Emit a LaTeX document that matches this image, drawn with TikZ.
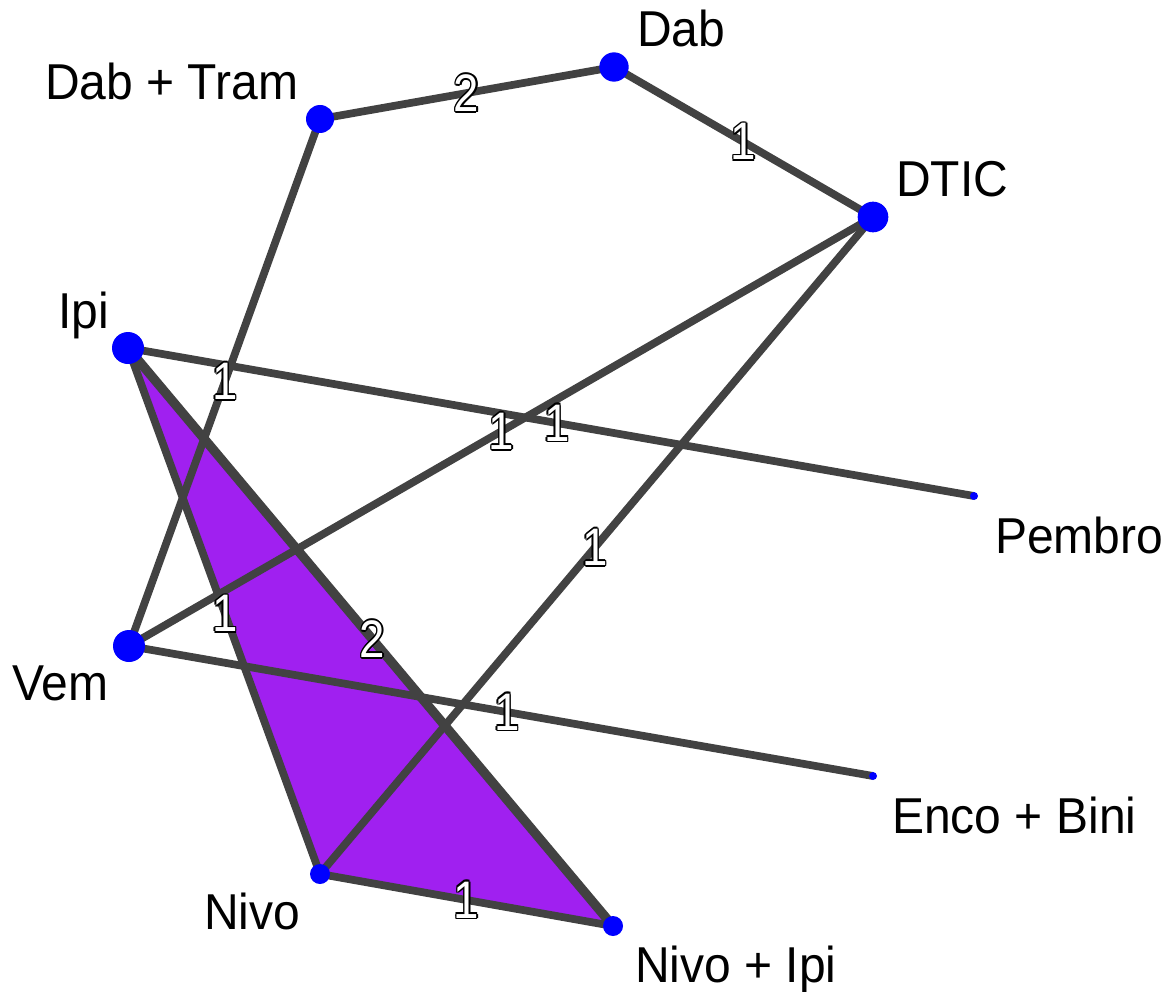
\documentclass[tikz,border=0pt]{standalone}
\usepackage{fontspec}
\setmainfont{Liberation Sans}
\usetikzlibrary{backgrounds}
\definecolor{edgec}{RGB}{66,66,66}
\definecolor{tri}{RGB}{160,32,240}
\definecolor{nodec}{RGB}{0,0,255}
\newcommand\olcopy[3]{\rlap{\hspace*{#1}\raisebox{#2}{\textcolor{black}{#3}}}}
\newcommand\outlraw[1]{%
  \olcopy{1.2pt}{0pt}{#1}\olcopy{-1.2pt}{0pt}{#1}%
  \olcopy{0pt}{1.2pt}{#1}\olcopy{0pt}{-1.2pt}{#1}%
  \olcopy{0.85pt}{0.85pt}{#1}\olcopy{-0.85pt}{0.85pt}{#1}%
  \olcopy{0.85pt}{-0.85pt}{#1}\olcopy{-0.85pt}{-0.85pt}{#1}%
  \textcolor{white}{#1}}
\newcommand\outl[1]{\scalebox{0.95}[1.1]{\outlraw{#1}}}
\newcommand\tall[1]{\scalebox{1}[1.05]{#1}}
\tikzset{
  trt/.style={circle, fill=nodec, draw=none, inner sep=0pt, minimum size=#1},
  trt/.default=24pt,
  edge/.style={draw=edgec, line width=5.8pt},
  edgethick/.style={draw=edgec, line width=7pt},
  elab/.style={inner sep=0pt, font=\fontsize{36pt}{40pt}\selectfont},
  nlab/.style={inner sep=0pt, anchor=base west, font=\fontsize{36pt}{40pt}\selectfont}
}
\begin{document}
\begin{tikzpicture}[x=0.75pt, y=-0.75pt]
\useasboundingbox (0,0) rectangle (1176,991);
% treatment nodes
\node[trt=21pt] (dabtram) at (320,119) {};
\node[trt=22pt] (dab) at (614,67) {};
\node[trt=23pt] (dtic) at (873,217) {};
\node[trt=24pt] (ipi) at (128,348) {};
\node[trt=6pt] (pembro) at (974,496) {};
\node[trt=24pt] (vem) at (129,646) {};
\node[trt=6pt] (enco) at (873,776) {};
\node[trt=15pt] (nivo) at (320,874) {};
\node[trt=15pt] (nivoipi) at (613,926) {};
% node labels
\node[nlab] (l1) at (45,100) {\tall{Dab + Tram}};
\node[nlab] (l2) at (637,47) {\tall{Dab}};
\node[nlab] (l3) at (896,197) {\tall{DTIC}};
\node[nlab] (l4) at (58,328) {\tall{Ipi}};
\node[nlab] (l5) at (995,553) {\tall{Pembro}};
\node[nlab] (l6) at (12,700) {\tall{Vem}};
\node[nlab] (l7) at (892,833) {\tall{Enco + Bini}};
\node[nlab] (l8) at (204,929) {\tall{Nivo}};
\node[nlab] (l9) at (635,982) {\tall{Nivo + Ipi}};
\begin{scope}[on background layer]
\fill[tri] (ipi.center) -- (nivo.center) -- (nivoipi.center) -- cycle;
\draw[edge] (dabtram.center) -- (dab.center);
\draw[edge] (dab.center) -- (dtic.center);
\draw[edge] (dabtram.center) -- (vem.center);
\draw[edge] (ipi.center) -- (pembro.center);
\draw[edge] (dtic.center) -- (vem.center);
\draw[edge] (dtic.center) -- (nivo.center);
\draw[edge] (ipi.center) -- (nivo.center);
\draw[edgethick] (ipi.center) -- (nivoipi.center);
\draw[edge] (vem.center) -- (enco.center);
\draw[edge] (nivo.center) -- (nivoipi.center);
\end{scope}
% edge labels
\path (dabtram) -- node[elab] (e1) {\outl{2}} (dab);
\path (dab) -- node[elab] (e2) {\outl{1}} (dtic);
\path (dabtram) -- node[elab] (e3) {\outl{1}} (vem);
\path (ipi) -- node[elab] (e4) {\outl{1}} (pembro);
\path (dtic) -- node[elab] (e5) {\outl{1}} (vem);
\path (dtic) -- node[elab] (e6) {\outl{1}} (nivo);
\path (ipi) -- node[elab] (e7) {\outl{1}} (nivo);
\path (ipi) -- node[elab] (e8) {\outl{2}} (nivoipi);
\path (vem) -- node[elab] (e9) {\outl{1}} (enco);
\path (nivo) -- node[elab] (e10) {\outl{1}} (nivoipi);
\end{tikzpicture}
\end{document}
